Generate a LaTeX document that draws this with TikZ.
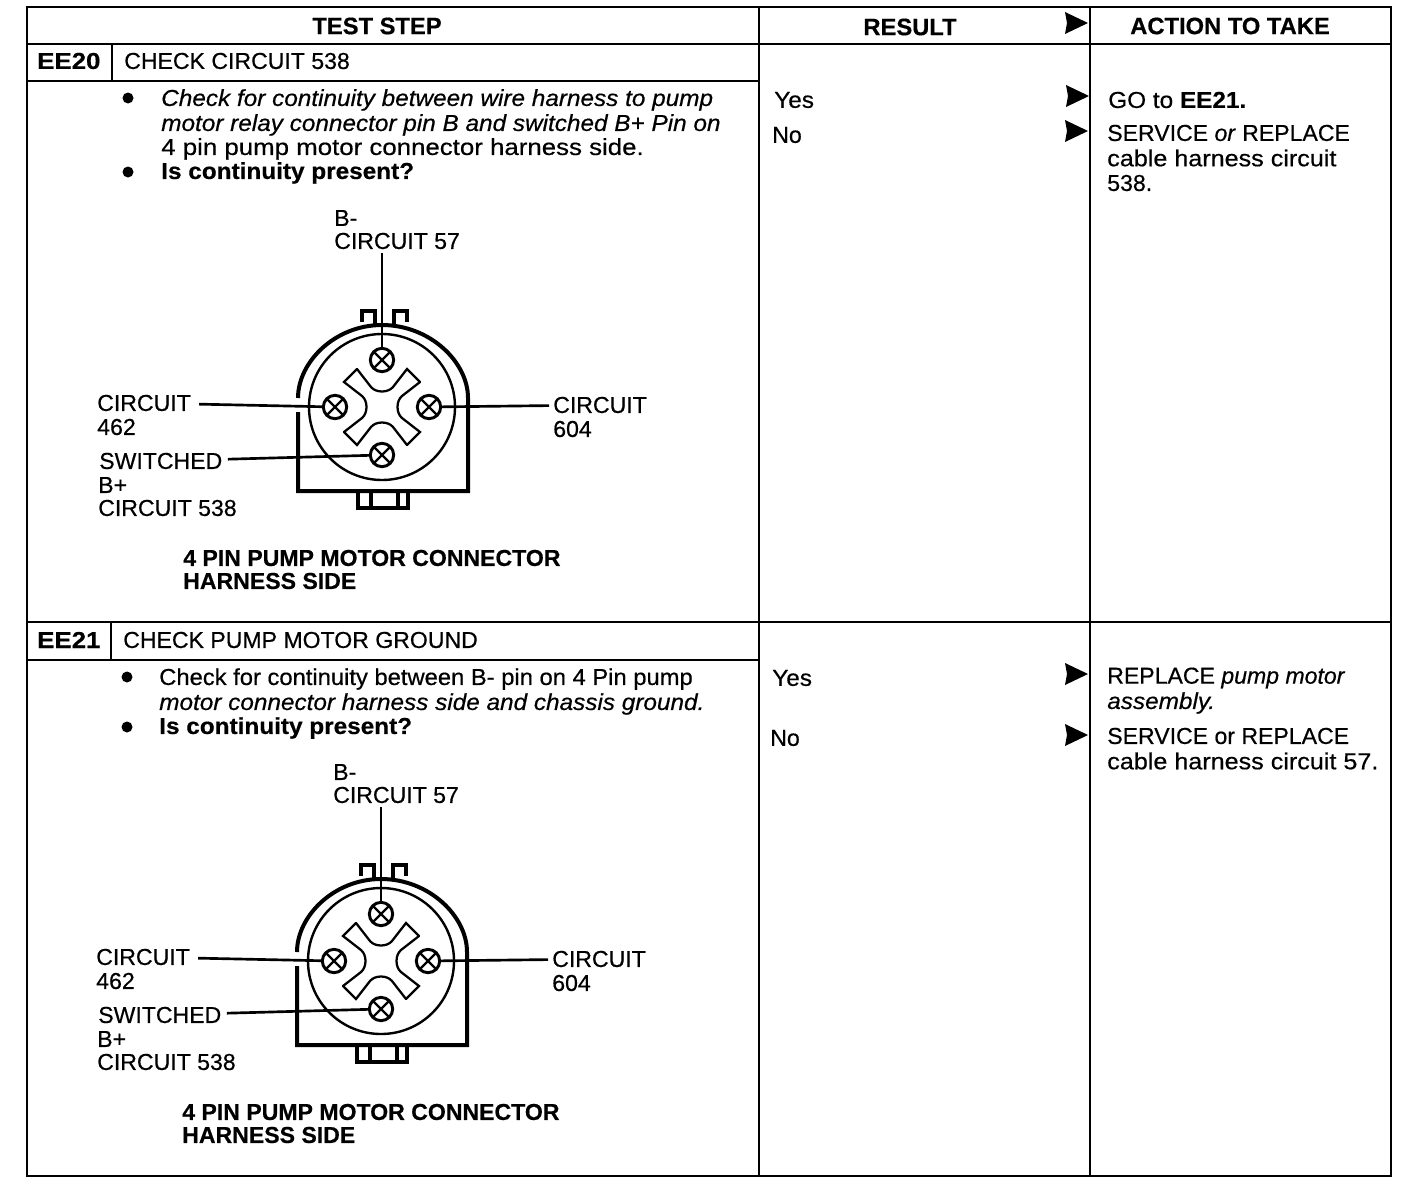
\documentclass[tikz,border=0pt]{standalone}
\usepackage{fontspec}
\setmainfont{Liberation Sans}[FakeBold=0.5]
\newfontfamily\slimfont{Liberation Sans}[FakeStretch=1.03,FakeBold=0.5]
\newfontfamily\widefont{Liberation Sans}[FakeStretch=1.055,FakeBold=0.5]
\newfontfamily\broadfont{Liberation Sans}[FakeStretch=1.09,FakeBold=0.5]
\newfontfamily\widerfont{Liberation Sans}[FakeStretch=1.12,FakeBold=0.5]

\tikzset{
  txt/.style={anchor=west,inner sep=0pt,font=\fontsize{17.3}{18}\selectfont},
  txtb/.style={txt,font=\fontsize{17.3}{18}\selectfont\bfseries},
  slim/.style={txt,font=\fontsize{17.3}{18}\selectfont\slimfont},
  low/.style={txt,font=\fontsize{17.3}{18}\selectfont\widefont},
  lowi/.style={txt,font=\fontsize{17.3}{18}\selectfont\widefont\itshape},
  lowb/.style={txt,font=\fontsize{17.3}{18}\selectfont\widefont\bfseries},
  broad/.style={txt,font=\fontsize{17.3}{18}\selectfont\broadfont},
  lowx/.style={txt,font=\fontsize{17.3}{18}\selectfont\widerfont},
  codetxt/.style={txt,font=\fontsize{17.3}{18}\selectfont\widerfont\bfseries},
  headtxt/.style={inner sep=0pt,font=\fontsize{17.8}{18}\selectfont\bfseries},
  rule/.style={line width=1.6pt},
  wire/.style={line width=2pt},
  pinhole/.style={circle,draw,line width=2.2pt,minimum size=17.5pt,inner sep=0pt,
    path picture={\draw[line width=1.7pt] (path picture bounding box.north west) -- (path picture bounding box.south east)
      (path picture bounding box.north east) -- (path picture bounding box.south west);}}
}

\newcommand{\flagtip}[2]{\fill (#1,#2) -- ++(-23,-11) -- ++(2,11) -- ++(-2,11) -- cycle;}

\newcommand{\pumpconn}[3]{
\begin{scope}[shift={(#2,#3)}]
  \coordinate (#1c) at (382,407);
  \draw[line width=3pt] (298,412) -- (298,491) -- (468,491) -- (468,398)
    .. controls (468,362) and (430,325) .. (382,325)
    .. controls (335,325) and (298,362) .. (298,398);
  \draw[line width=1.8pt] (#1c) circle (73);
  \draw[line width=2.8pt] (362,322) -- (362,311) -- (375,311) -- (375,326);
  \draw[line width=2.8pt] (394,326) -- (394,311) -- (407,311) -- (407,322);
  \draw[line width=2.8pt] (358,491) -- (358,508) -- (408,508) -- (408,491);
  \draw[line width=2.8pt] (371,491) -- (371,507) (398,491) -- (398,507);
  \foreach \a in {0,90,180,270}
    \draw[line width=1.7pt,line cap=round,shift={(#1c)},rotate=\a]
      (-25,-38) -- (-11,-20) .. controls (-6,-14) and (6,-14) .. (11,-20) -- (25,-38) -- (38,-25);
  \node[pinhole] (#1top) at (382,360) {};
  \node[pinhole] (#1left) at (335,407) {};
  \node[pinhole] (#1right) at (429,407) {};
  \node[pinhole] (#1bot) at (382,455) {};
  \node[txt] (#1bm) at (334,218) {B-};
  \node[txt] (#1c57) at (334,241) {CIRCUIT 57};
  \node[txt] (#1c462) at (97,403) {CIRCUIT};
  \node[txt] (#1n462) at (97,427) {462};
  \node[txt] (#1c604) at (553,405) {CIRCUIT};
  \node[txt] (#1n604) at (553,429) {604};
  \node[txt] (#1sw) at (99,461) {SWITCHED};
  \node[txt] (#1bp) at (98,485) {B+};
  \node[txt] (#1c538) at (98,508) {CIRCUIT 538};
  \node[txtb] (#1cap) at (183,558) {4 PIN PUMP MOTOR CONNECTOR};
  \node[txtb] (#1side) at (183,581) {HARNESS SIDE};
  \draw[wire,shorten <=3pt] (#1c57.south -| #1top) -- (#1top);
  \draw[wire,shorten <=6pt] (#1c462) -- (#1left);
  \draw[wire,shorten <=3pt] (#1c604) -- (#1right);
  \draw[wire,shorten <=4pt] (#1sw) -- (#1bot);
\end{scope}
}

\begin{document}
\begin{tikzpicture}[x=0.75pt,y=-0.75pt]
\useasboundingbox (0,0) rectangle (1408,1188);

\draw[rule] (27,7) rectangle (1391,1176);
\draw[rule] (27,44) -- (1391,44);
\draw[rule] (759,7) -- (759,1176);
\draw[rule] (1090,7) -- (1090,1176);
\draw[rule] (27,622) -- (1391,622);
\draw[rule] (27,81) -- (759,81);
\draw[rule] (112,44) -- (112,81);
\draw[rule] (27,660) -- (759,660);
\draw[rule] (111,622) -- (111,660);

\node[headtxt] (hstep) at (377,26) {TEST STEP};
\node[headtxt] (hresult) at (910,27) {RESULT};
\node[headtxt] (haction) at (1230,26) {ACTION TO TAKE};

\flagtip{1088}{23}
\flagtip{1089}{96}
\flagtip{1088}{131}
\flagtip{1088}{674}
\flagtip{1088}{735}

\node[codetxt] (ee20) at (37,61) {EE20};
\node[txt] (ee20t) at (124,61) {CHECK CIRCUIT 538};
\fill (128,98) circle (5.5) (128,172) circle (5.5);
\node[lowi] (a1) at (161,100) {Check for continuity between wire harness to pump};
\node[lowi] (a2) at (161,125) {motor relay connector pin B and switched B+ Pin on};
\node[lowx] (a3) at (161,149) {4 pin pump motor connector harness side.};
\node[lowb] (a4) at (161,173) {Is continuity present?};
\node[low] (ayes) at (774,100) {Yes};
\node[txt] (ano) at (772,135) {No};
\node[low] (ago) at (1108,100) {GO to \textbf{EE21.}};
\node[txt] (asv) at (1107,133) {SERVICE \textit{or} REPLACE};
\node[broad] (ach) at (1107,158) {cable harness circuit};
\node[txt] (anum) at (1107,183) {538.};

\node[codetxt] (ee21) at (37,640) {EE21};
\node[txt] (ee21t) at (123,640) {CHECK PUMP MOTOR GROUND};
\fill (127,677) circle (5.5) (127,727) circle (5.5);
\node[slim] (b1) at (159,679) {Check for continuity between B- pin on 4 Pin pump};
\node[lowi] (b2) at (159,704) {motor connector harness side and chassis ground.};
\node[lowb] (b3) at (159,728) {Is continuity present?};
\node[low] (byes) at (772,678) {Yes};
\node[txt] (bno) at (770,738) {No};
\node[txt] (brp) at (1107,678) {REPLACE \textit{pump motor}};
\node[lowi] (bas) at (1107,703) {assembly.};
\node[txt] (bsv) at (1107,736) {SERVICE or REPLACE};
\node[broad] (bch) at (1107,761) {cable harness circuit 57.};

\pumpconn{u}{0}{0}
\pumpconn{v}{-1}{554}
\end{tikzpicture}
\end{document}
